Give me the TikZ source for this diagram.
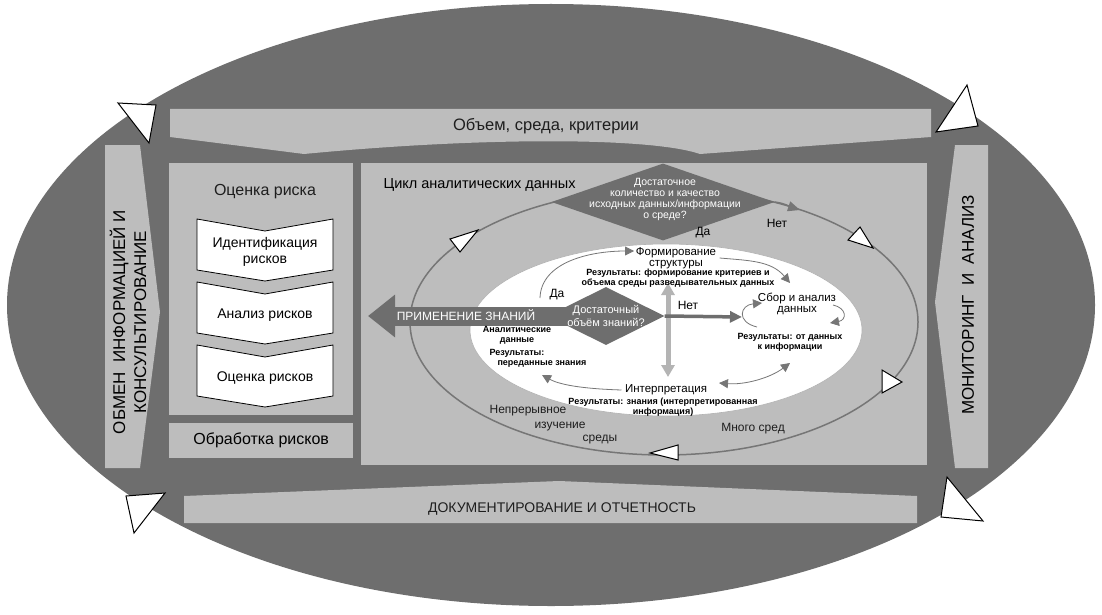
\documentclass[tikz,border=0pt]{standalone}
\usepackage{fontspec}
\setmainfont{Liberation Sans}
\usetikzlibrary{arrows.meta,shapes.geometric,positioning}

\definecolor{riskdark}{HTML}{6E6E6E}
\definecolor{risklight}{HTML}{BDBDBD}
\definecolor{arrowgray}{HTML}{767676}
\definecolor{palegray}{HTML}{B4B4B4}
\definecolor{inktext}{HTML}{1E1E1E}

\tikzset{
  panel/.style={fill=risklight, inner sep=0pt, anchor=north west},
  banner/.style={fill=risklight},
  bannertext/.style={font=\fontsize{14}{16}\selectfont, text=inktext},
  sidetext/.style={font=\fontsize{17}{21}\selectfont, rotate=90, align=center},
  stepbox/.style={draw=black, line width=0.8pt, fill=white},
  steptext/.style={font=\fontsize{14}{16}\selectfont, align=center},
  decision/.style={diamond, fill=riskdark, inner sep=0pt},
  whitetext/.style={text=white, align=center},
  heading/.style={font=\fontsize{11.5}{11}\selectfont, align=center},
  result/.style={font=\bfseries\fontsize{9}{10}\selectfont, align=center},
  areatext/.style={font=\fontsize{12}{12}\selectfont, text=inktext},
  flow/.style={draw=arrowgray, line width=0.8pt, -{Triangle[length=9pt,width=9pt]}},
  opentri/.style={draw=black, line width=1pt, fill=white},
}

\begin{document}
\begin{tikzpicture}[x=1pt, y=-1pt, font=\fontsize{12}{14}\selectfont]
\useasboundingbox (0,0) rectangle (1102,615);
\fill[white] (0,0) rectangle (1102,615);

\node[ellipse, fill=riskdark, minimum width=1088pt, minimum height=602pt, inner sep=0pt] (field) at (551,305) {};

% banners round the frame
\fill[banner] (170,109) -- (931,109) -- (931,137) -- (700,154) .. controls (650,137) and (480,137) .. (304,154) -- (170,137) -- cycle;
\node[bannertext, font=\fontsize{16.5}{17}\selectfont] (scope) at (546,126) {Объем, среда, критерии};
\fill[banner] (184,496) -- (559,481) -- (917,496) -- (917,523) -- (184,523) -- cycle;
\node[bannertext] (docs) at (562,509) {ДОКУМЕНТИРОВАНИЕ И ОТЧЕТНОСТЬ};
\fill[banner] (105,145) -- (140,145) -- (160,312) -- (140,468) -- (105,468) -- cycle;
\node[sidetext] (consult) at (128,322) {ОБМЕН\ \ ИНФОРМАЦИЕЙ И\\КОНСУЛЬТИРОВАНИЕ};
\fill[banner] (955,145) -- (988,145) -- (988,468) -- (955,468) -- (935,302) -- cycle;
\node[sidetext] (monitor) at (968,305) {МОНИТОРИНГ\ \ И\ \ АНАЛИЗ};

\filldraw[opentri] (118,103) -- (156,105) -- (149,143) -- cycle;
\filldraw[opentri] (967,85) -- (978,126) -- (936,132) -- cycle;
\filldraw[opentri] (126,496) -- (165,493) -- (134,533) -- cycle;
\filldraw[opentri] (947,477) -- (983,521) -- (941,517) -- cycle;

% risk assessment
\node[panel, minimum width=184pt, minimum height=252pt] (riskbox) at (169,163) {};
\node[font=\fontsize{16}{16}\selectfont, text=inktext] (risktitle) at (265,192) {Оценка риска};
\foreach \y/\nm/\txt in {219/ident/{Идентификация\\рисков}, 282/analysis/{Анализ рисков}, 345/evaluation/{Оценка рисков}}{
  \filldraw[stepbox] (197,\y) -- (265,\y+12) -- (333,\y) -- (333,\y+51) -- (265,\y+62) -- (197,\y+51) -- cycle;
  \node[steptext] (\nm) at (265,\y+33) {\txt};
}
\node[panel, minimum width=184pt, minimum height=35pt] (treatbox) at (169,423) {};
\node[font=\fontsize{16}{16}\selectfont] (treat) at (treatbox.center) {Обработка рисков};

% intelligence cycle
\node[panel, minimum width=566pt, minimum height=302pt] (cyclebox) at (361,163) {};
\node[font=\fontsize{14.5}{15}\selectfont, anchor=west] (cycletitle) at (380,185) {Цикл аналитических данных};
\node[ellipse, draw=arrowgray, line width=1.5pt, minimum width=508pt, minimum height=266pt, inner sep=0pt] (cycle) at (664,322) {};
\node[ellipse, fill=white, draw=gray!60, line width=0.6pt, minimum width=392pt, minimum height=172pt, inner sep=0pt] (core) at (666,330) {};

\filldraw[opentri] (478,230) -- (450,239) -- (460,252) -- cycle;
\filldraw[opentri] (873,248) -- (848,240) -- (860,227) -- cycle;
\filldraw[opentri] (902,382) -- (882,370) -- (882,393) -- cycle;
\filldraw[opentri] (650,453) -- (678,445) -- (678,460) -- cycle;

\node[decision, minimum width=223pt, minimum height=77pt] (enough) at (663,202) {};
\node[whitetext, font=\fontsize{10.5}{11}\selectfont] (enoughtxt) at (665,199) {Достаточное\\количество и качество\\исходных данных/информации\\о среде?};
\coordinate (noturn) at (800,210);
\draw[arrowgray, line width=1.5pt, -{Triangle[length=12pt,width=10pt]}] (enough.east) to[out=-8,in=162] (noturn);
\node (enoughyes) at (703,233) {Да};
\node (enoughno) at (777,223) {Нет};

\node[areatext] (cont1) at (528,411) {Непрерывное};
\node[areatext] (cont2) at (560,427) {изучение};
\node[areatext] (cont3) at (600,440) {среды};
\node[areatext] (many) at (753,429) {Много сред};

% inside the core
\coordinate (vtop) at (668,283);
\coordinate (vbot) at (668,377);
\draw[palegray, line width=5pt, {Triangle[length=12pt,width=13pt]}-{Triangle[length=12pt,width=13pt]}] (vtop) -- (vbot);

\node[decision, minimum width=117pt, minimum height=58pt] (know) at (606,316) {};
\coordinate (applyend) at (368,316);
\draw[riskdark, line width=19pt, -{Triangle[length=27pt,width=41pt]}] (know.center) -- (applyend);
\node[whitetext, font=\fontsize{12}{12}\selectfont] (applytxt) at (466,315) {ПРИМЕНЕНИЕ ЗНАНИЙ};
\node[whitetext, font=\fontsize{11}{12.5}\selectfont] (knowtxt) at (606,316) {Достаточный\\объём знаний?};
\coordinate (noend) at (742,317);
\draw[riskdark, line width=3.5pt, -{Triangle[length=12pt,width=11pt]}] (know.east) -- (noend);
\node (knowno) at (688,305) {Нет};
\node (knowyes) at (557,295) {Да};

\node[heading] (frame) at (676,258) {Формирование\\структуры};
\node[result] (frameres) at (678,278) {Результаты: формирование критериев и\\объема среды разведывательных данных};
\node[heading] (collect) at (797,304) {Сбор и анализ\\данных};
\node[result] (collectres) at (790,342) {Результаты: от данных\\к информации};
\node[heading] (interp) at (666,390) {Интерпретация};
\node[result] (interpres) at (663,407) {Результаты: знания (интерпретированная\\информация)};
\node[result] (analytic) at (517,335) {Аналитические\\данные};
\node[result, align=left, anchor=north west] (passed) at (486,346) {Результаты:\\\hspace*{8pt}переданные знания};

\coordinate (yesfrom) at (540,298);
\coordinate (frametip) at (634,251);
\draw[flow] (yesfrom) .. controls (541,262) and (590,251) .. (frametip);
\coordinate (collecttip) at (790,283);
\draw[flow] (frame.east) to[out=-5,in=130] (collecttip);
\coordinate (loopa) at (757,327);
\coordinate (loopatip) at (762,303);
\draw[flow] (loopa) .. controls (736,322) and (740,305) .. (loopatip);
\coordinate (loopb) at (833,305);
\coordinate (loopbtip) at (830,323);
\draw[flow] (loopb) .. controls (847,308) and (847,320) .. (loopbtip);
\coordinate (backtip) at (790,363);
\coordinate (backend) at (719,383);
\draw[flow, {Triangle[length=9pt,width=9pt]}-{Triangle[length=9pt,width=9pt]}] (backend) .. controls (745,385) and (770,378) .. (backtip);
\coordinate (passedtip) at (542,375);
\draw[flow] (interp.west) .. controls (590,389) and (562,386) .. (passedtip);
\end{tikzpicture}
\end{document}
